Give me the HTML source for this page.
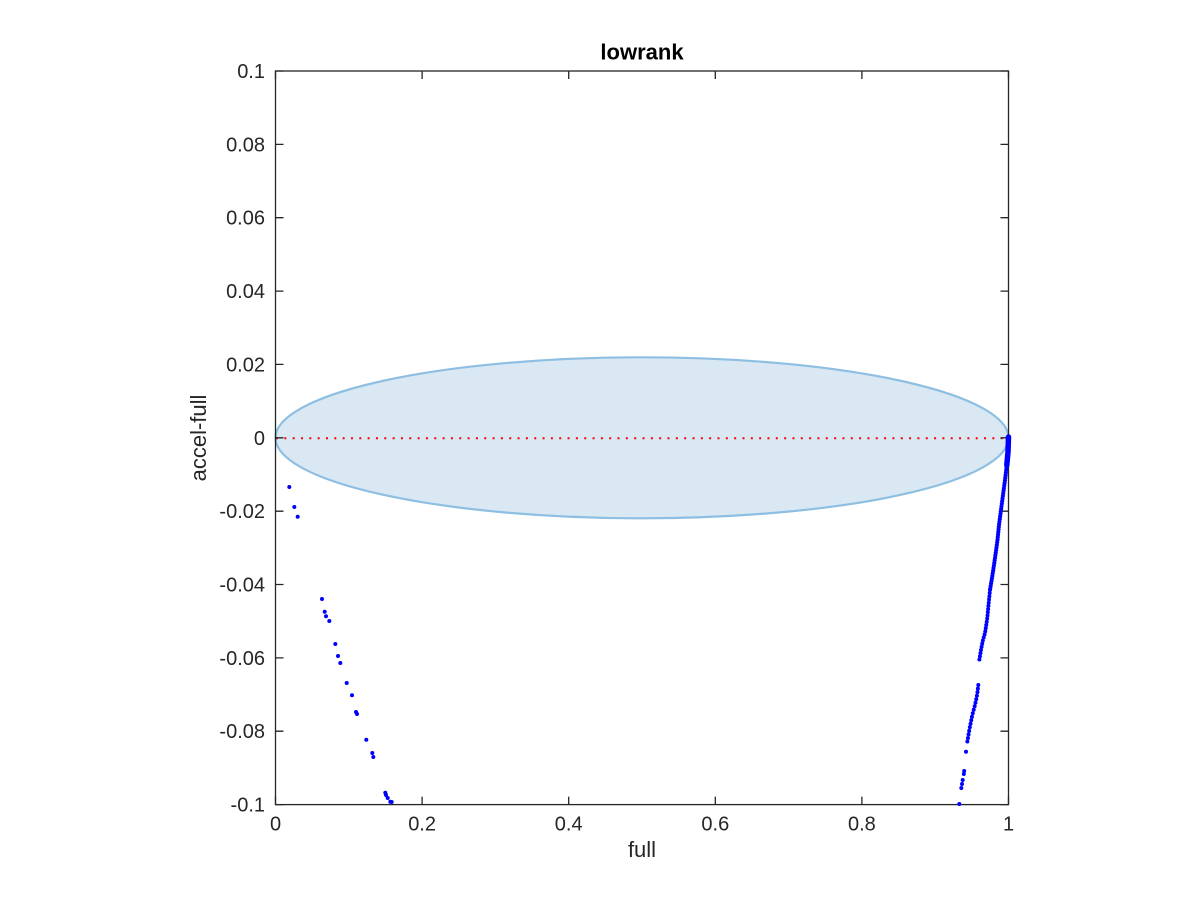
<!DOCTYPE html>
<html>
<head>
<meta charset="utf-8">
<style>
  html, body { margin: 0; padding: 0; background: #ffffff; }
  body { width: 1200px; height: 900px; overflow: hidden; }
  svg { display: block; }
  text { font-family: "Liberation Sans", "DejaVu Sans", sans-serif; fill: #262626; }
</style>
</head>
<body>
<svg width="1200" height="900" viewBox="0 0 1200 900" xmlns="http://www.w3.org/2000/svg">
  <rect x="0" y="0" width="1200" height="900" fill="#ffffff"/>

  <!-- ellipse patch -->
  <ellipse cx="642" cy="437.8" rx="366.5" ry="80.5" fill="#d9e8f3" stroke="#8ebfe2" stroke-width="2.2"/>

  <!-- red dotted zero line -->
  <line x1="276" y1="438.3" x2="1008" y2="438.3" stroke="#ff0000" stroke-width="2" stroke-dasharray="2 6.33"/>

  <!-- axes box -->
  <g stroke="#262626" stroke-width="1.3" fill="none">
    <rect x="275.5" y="71" width="733" height="733.6"/>
    <path d="M275.5 804.6v-8 M422.1 804.6v-8 M568.7 804.6v-8 M715.3 804.6v-8 M861.9 804.6v-8 M1008.5 804.6v-8
             M275.5 71v8 M422.1 71v8 M568.7 71v8 M715.3 71v8 M861.9 71v8 M1008.5 71v8"/>
    <path d="M275.5 71h8 M275.5 144.4h8 M275.5 217.7h8 M275.5 291.1h8 M275.5 364.4h8 M275.5 437.8h8 M275.5 511.2h8 M275.5 584.5h8 M275.5 657.9h8 M275.5 731.2h8 M275.5 804.6h8
             M1008.5 71h-8 M1008.5 144.4h-8 M1008.5 217.7h-8 M1008.5 291.1h-8 M1008.5 364.4h-8 M1008.5 437.8h-8 M1008.5 511.2h-8 M1008.5 584.5h-8 M1008.5 657.9h-8 M1008.5 731.2h-8 M1008.5 804.6h-8"/>
  </g>

  <!-- left scattered points -->
  <g fill="#0000ff">
    <circle cx="289.3" cy="487" r="2"/>
    <circle cx="294.3" cy="507" r="2"/>
    <circle cx="297.7" cy="516.7" r="2"/>
    <circle cx="322" cy="599" r="2"/>
    <circle cx="324.7" cy="611.7" r="2"/>
    <circle cx="326" cy="616.3" r="2"/>
    <circle cx="329.3" cy="621" r="2"/>
    <circle cx="335.3" cy="644" r="2"/>
    <circle cx="338" cy="656" r="2"/>
    <circle cx="340.3" cy="663" r="2"/>
    <circle cx="346.7" cy="683" r="2"/>
    <circle cx="352" cy="695.3" r="2"/>
    <circle cx="356" cy="712" r="2"/>
    <circle cx="357" cy="714" r="2"/>
    <circle cx="366.3" cy="739.7" r="2"/>
    <circle cx="372.3" cy="753" r="2"/>
    <circle cx="373.3" cy="757" r="2"/>
    <circle cx="385.3" cy="792.7" r="2"/>
    <circle cx="386" cy="795" r="2"/>
    <circle cx="387.7" cy="798" r="2"/>
    <circle cx="390.3" cy="801.7" r="2"/>
    <circle cx="391.7" cy="802" r="2"/>
  </g>

  <!-- right dense cluster -->
  <g stroke="#0000ff" fill="none" stroke-linecap="round" stroke-linejoin="round">
    <polyline stroke-width="5.5" points="1008.5,437 1008,452 1006.8,465"/>
    <polyline stroke-width="4.2" stroke-dasharray="0 2.6" points="1006.8,465 1005,480 1003,495 1001,510 999,525 997.5,540 996,551 994,565 992,578 990,590"/>
    <polyline stroke-width="4" stroke-dasharray="0 3.2" points="990,590 988.3,607 987.3,618 985,633 982.7,641 981,650 979.3,660"/>
    <polyline stroke-width="4" stroke-dasharray="0 3.6" points="978.3,685 977.5,692 976.7,697 975,705 972.3,715 970.7,723 969.3,730 967.3,742"/>
  </g>
  <g fill="#0000ff">
    <circle cx="966" cy="751.7" r="2"/>
    <circle cx="964.2" cy="771" r="2"/>
    <circle cx="963.8" cy="774" r="2"/>
    <circle cx="962.7" cy="780" r="2"/>
    <circle cx="962" cy="784" r="2"/>
    <circle cx="961.3" cy="788" r="2"/>
    <circle cx="959.3" cy="804" r="2"/>
  </g>

  <!-- y tick labels -->
  <g font-size="20" text-anchor="end">
    <text x="265" y="78">0.1</text>
    <text x="265" y="151.4">0.08</text>
    <text x="265" y="224.7">0.06</text>
    <text x="265" y="298.1">0.04</text>
    <text x="265" y="371.4">0.02</text>
    <text x="265" y="444.8">0</text>
    <text x="265" y="518.2">-0.02</text>
    <text x="265" y="591.5">-0.04</text>
    <text x="265" y="664.9">-0.06</text>
    <text x="265" y="738.2">-0.08</text>
    <text x="265" y="811.6">-0.1</text>
  </g>

  <!-- x tick labels -->
  <g font-size="20" text-anchor="middle">
    <text x="275.5" y="830.5">0</text>
    <text x="422.1" y="830.5">0.2</text>
    <text x="568.7" y="830.5">0.4</text>
    <text x="715.3" y="830.5">0.6</text>
    <text x="861.9" y="830.5">0.8</text>
    <text x="1008.5" y="830.5">1</text>
  </g>

  <!-- axis labels -->
  <text x="642" y="857" font-size="22" text-anchor="middle">full</text>
  <text x="0" y="0" font-size="22" text-anchor="middle" transform="translate(206,438) rotate(-90)">accel-full</text>

  <!-- title -->
  <text x="642" y="59.5" font-size="22" font-weight="bold" text-anchor="middle" style="fill:#000">lowrank</text>
</svg>
</body>
</html>
